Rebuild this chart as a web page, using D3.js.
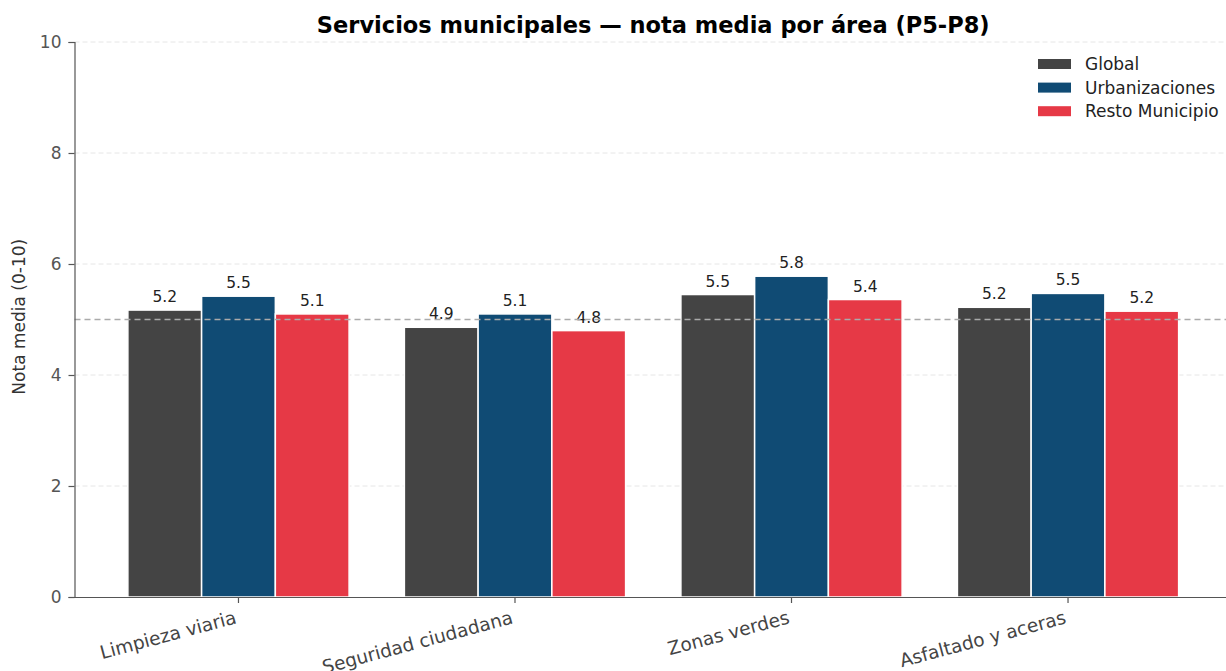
<!DOCTYPE html>
<html>
<head>
<meta charset="utf-8">
<script src="https://cdn.jsdelivr.net/npm/d3@7"></script>
<style>
  body { margin: 0; background: #fff; }
  svg { display: block; font-family: "DejaVu Sans", sans-serif; }
</style>
</head>
<body>
<svg id="chart" width="1226" height="671"></svg>
<script>
// ---------------------------- DATA ----------------------------
const areas = ["Limpieza viaria", "Seguridad ciudadana", "Zonas verdes", "Asfaltado y aceras"];
const seriesNames = ["Global", "Urbanizaciones", "Resto Municipio"];
const seriesColours = ["#444444", "#104b74", "#e63946"];

// bar heights
const globalValues = [5.17, 4.86, 5.45, 5.22];
const urbValues = [5.42, 5.10, 5.78, 5.47];
const restoValues = [5.10, 4.80, 5.36, 5.15];

// labels printed above the bars
const globalLabels = ["5.2", "4.9", "5.5", "5.2"];
const urbLabels = ["5.5", "5.1", "5.8", "5.5"];
const restoLabels = ["5.1", "4.8", "5.4", "5.2"];

const yTicks = [0, 2, 4, 6, 8, 10];
const refLine = 5;

// ---------------------------- SETUP ----------------------------
const svg = d3.select("#chart");
const plotLeft = 74.5, plotRight = 1232, plotTop = 42, plotBottom = 597;

const x = d3.scaleBand()
    .domain(areas)
    .range([plotLeft, plotRight])
    .paddingInner(0.2)
    .paddingOuter(0.193);
const xInner = d3.scaleBand()
    .domain(seriesNames)
    .range([0, x.bandwidth()]);
const y = d3.scaleLinear()
    .domain([0, 10])
    .range([plotBottom, plotTop]);

const values = [globalValues, urbValues, restoValues];
const labels = [globalLabels, urbLabels, restoLabels];

// Gridlines
svg.append("g")
    .selectAll("line")
    .data(yTicks.filter(d => d > 0))
    .enter()
    .append("line")
    .attr("x1", plotLeft).attr("x2", 1226)
    .attr("y1", d => y(d)).attr("y2", d => y(d))
    .attr("stroke", "#e6e6e6")
    .attr("stroke-width", 1)
    .attr("stroke-dasharray", "5,3");

// Bars, one group per series
seriesNames.forEach((name, s) => {
    const g = svg.append("g");
    g.selectAll("rect")
        .data(values[s])
        .enter()
        .append("rect")
        .attr("x", (d, i) => x(areas[i]) + xInner(name))
        .attr("y", d => y(d))
        .attr("width", xInner.bandwidth())
        .attr("height", d => y(0) - y(d))
        .attr("fill", seriesColours[s])
        .attr("stroke", "#fff")
        .attr("stroke-width", 1.5);
    g.selectAll("text")
        .data(values[s])
        .enter()
        .append("text")
        .attr("x", (d, i) => x(areas[i]) + xInner(name) + xInner.bandwidth() / 2)
        .attr("y", d => y(d) - 8)
        .attr("text-anchor", "middle")
        .attr("font-size", 15.5)
        .attr("fill", "#222")
        .text((d, i) => labels[s][i]);
});

// Reference line at 5
svg.append("line")
    .attr("x1", plotLeft).attr("x2", 1226)
    .attr("y1", y(refLine)).attr("y2", y(refLine))
    .attr("stroke", "#aaaaaa")
    .attr("stroke-width", 1.5)
    .attr("stroke-dasharray", "6,4");

// Y axis
const yAxis = svg.append("g")
    .attr("transform", "translate(" + plotLeft + ",0)")
    .call(d3.axisLeft(y).tickValues(yTicks).tickSize(6).tickPadding(7).tickFormat(d3.format("d")));
yAxis.select(".domain").attr("stroke", "#555").attr("stroke-width", 1.2);
yAxis.selectAll(".tick line").attr("stroke", "#555").attr("stroke-width", 1.2);
yAxis.selectAll(".tick text")
    .attr("font-size", 17)
    .attr("fill", "#555")
    .attr("font-family", "DejaVu Sans, sans-serif");

// X axis
const xAxis = svg.append("g")
    .attr("transform", "translate(0," + plotBottom + ")")
    .call(d3.axisBottom(x).tickSize(6).tickPadding(6).tickSizeOuter(0));
xAxis.select(".domain").attr("stroke", "#555").attr("stroke-width", 1.2);
xAxis.selectAll(".tick line").attr("stroke", "#555").attr("stroke-width", 1.2);
xAxis.selectAll(".tick text")
    .attr("font-size", 18.5)
    .attr("fill", "#444")
    .attr("font-family", "DejaVu Sans, sans-serif")
    .attr("text-anchor", "end")
    .attr("y", 0)
    .attr("dy", 0)
    .attr("transform", "translate(-1,26) rotate(-15)");

// Y axis title
svg.append("text")
    .attr("transform", "translate(25," + y(5.05) + ") rotate(-90)")
    .attr("text-anchor", "middle")
    .attr("font-size", 17)
    .attr("fill", "#333")
    .text("Nota media (0-10)");

// Chart title
svg.append("text")
    .attr("x", (plotLeft + plotRight) / 2)
    .attr("y", 33)
    .attr("text-anchor", "middle")
    .attr("font-size", 22.5)
    .attr("font-weight", "bold")
    .attr("fill", "#000")
    .text("Servicios municipales — nota media por área (P5-P8)");

// Legend
const legend = svg.append("g").attr("transform", "translate(1038,59)");
seriesNames.forEach((name, i) => {
    legend.append("rect")
        .attr("x", 0).attr("y", i * 23.6)
        .attr("width", 33).attr("height", 10)
        .attr("fill", seriesColours[i]);
    legend.append("text")
        .attr("x", 47).attr("y", i * 23.6 + 11)
        .attr("font-size", 17)
        .attr("fill", "#222")
        .text(name);
});
</script>
</body>
</html>
